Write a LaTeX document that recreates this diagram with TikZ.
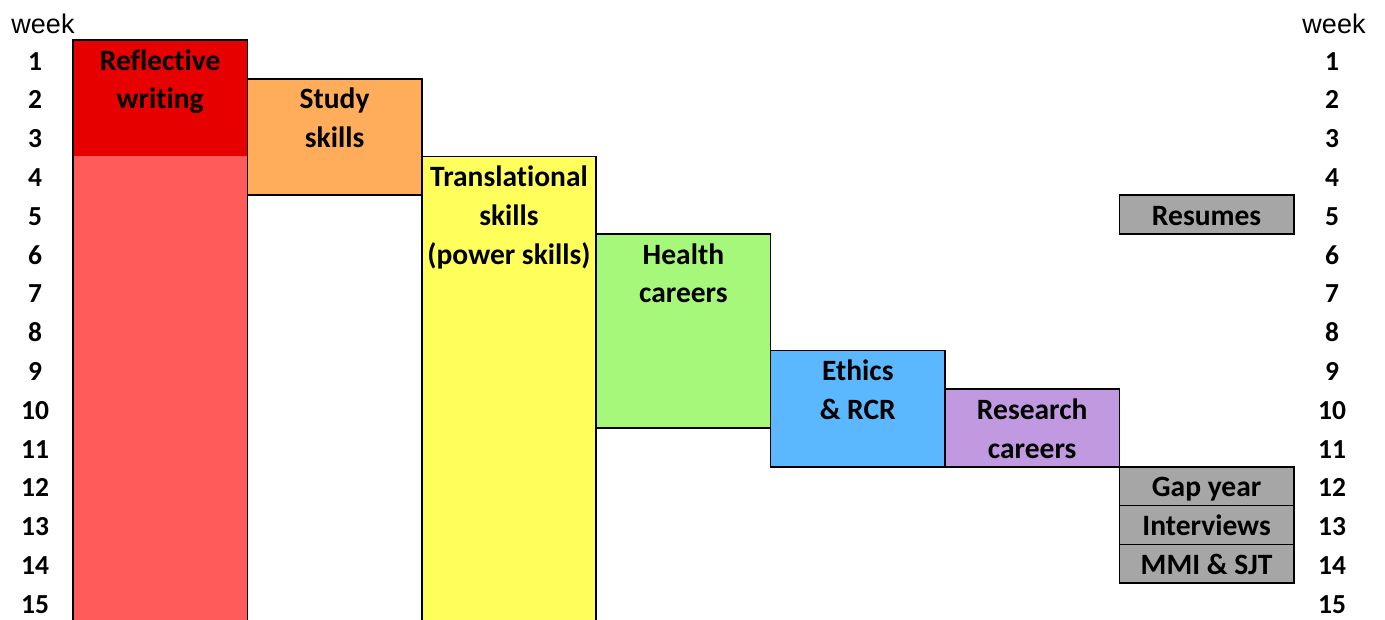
\documentclass[tikz,border=0pt]{standalone}
\usepackage{fontspec}
\setmainfont{Carlito}[Ligatures=NoCommon]
\newfontfamily\weekfont{Liberation Sans}

\definecolor{reddark}{HTML}{E60000}
\definecolor{redlight}{HTML}{FF5B5B}
\definecolor{orangelight}{HTML}{FFAD5B}
\definecolor{yellowlight}{HTML}{FFFF5B}
\definecolor{greenlight}{HTML}{A6F87A}
\definecolor{bluelight}{HTML}{5BB8FF}
\definecolor{purplelight}{HTML}{C199E0}
\definecolor{greybox}{HTML}{A6A6A6}

\tikzset{
  box/.style={draw=black,line width=1.6pt,anchor=north west,minimum width=174.4pt,inner sep=0pt,outer sep=0pt},
  lbl/.style={anchor=north,align=center,inner xsep=0pt,inner ysep=2.8pt,font=\bfseries\fontsize{29.5}{38.8}\selectfont},
  wk/.style={anchor=base,font=\bfseries\fontsize{27.5}{32}\selectfont},
  wkhead/.style={anchor=base,font=\weekfont\fontsize{27}{32}\selectfont},
}

\begin{document}
\begin{tikzpicture}[x=1pt,y=-1pt]

\useasboundingbox (0,0) rectangle (1385,619);

% week scale, left and right
\node[wkhead] (weekl) at (43,33) {week};
\node[wkhead] (weekr) at (1334,33) {week};
\foreach \i in {1,...,15} {
  \node[wk] (wl\i) at (35,{70+38.8*(\i-1)}) {\i};
  \node[wk] (wr\i) at (1332,{70+38.8*(\i-1)}) {\i};
}

% columns
\node[box,draw=none,fill=reddark,minimum height=116.4pt] (refla) at (73,40) {};
\node[box,draw=none,fill=redlight,minimum height=470pt] (reflb) at (73,156.4) {};
\draw[line width=1.6pt] (refla.north west) rectangle (reflb.south east);

\node[box,fill=orangelight,minimum height=116.4pt] (study) at (247.4,78.8) {};
\node[box,fill=yellowlight,minimum height=470pt] (transl) at (421.8,156.4) {};
\node[box,fill=greenlight,minimum height=194pt] (health) at (596.2,234) {};
\node[box,fill=bluelight,minimum height=116.4pt] (ethics) at (770.6,350.4) {};
\node[box,fill=purplelight,minimum height=77.6pt] (research) at (945,389.2) {};

\node[box,fill=greybox,minimum height=38.8pt] (resumes) at (1119.4,195.2) {};
\node[box,fill=greybox,minimum height=38.8pt] (gapyear) at (1119.4,466.8) {};
\node[box,fill=greybox,minimum height=38.8pt] (interv) at (1119.4,505.6) {};
\node[box,fill=greybox,minimum height=38.8pt] (mmi) at (1119.4,544.4) {};

% labels
\node[lbl] (reflt) at (refla.north) {\strut Reflective\\\strut writing};
\node[lbl] (studyt) at (study.north) {\strut Study\\\strut skills};
\node[lbl] (translt) at (transl.north) {\strut Translational\\\strut skills\\\strut (power skills)};
\node[lbl] (healtht) at (health.north) {\strut Health\\\strut careers};
\node[lbl] (ethicst) at (ethics.north) {\strut Ethics\\\strut \& RCR};
\node[lbl] (researcht) at (research.north) {\strut Research\\\strut careers};
\node[lbl] (resumest) at (resumes.north) {\strut Resumes};
\node[lbl] (gapyeart) at (gapyear.north) {\strut Gap year};
\node[lbl] (intervt) at (interv.north) {\strut Interviews};
\node[lbl] (mmit) at (mmi.north) {\strut MMI \& SJT};

\end{tikzpicture}
\end{document}
